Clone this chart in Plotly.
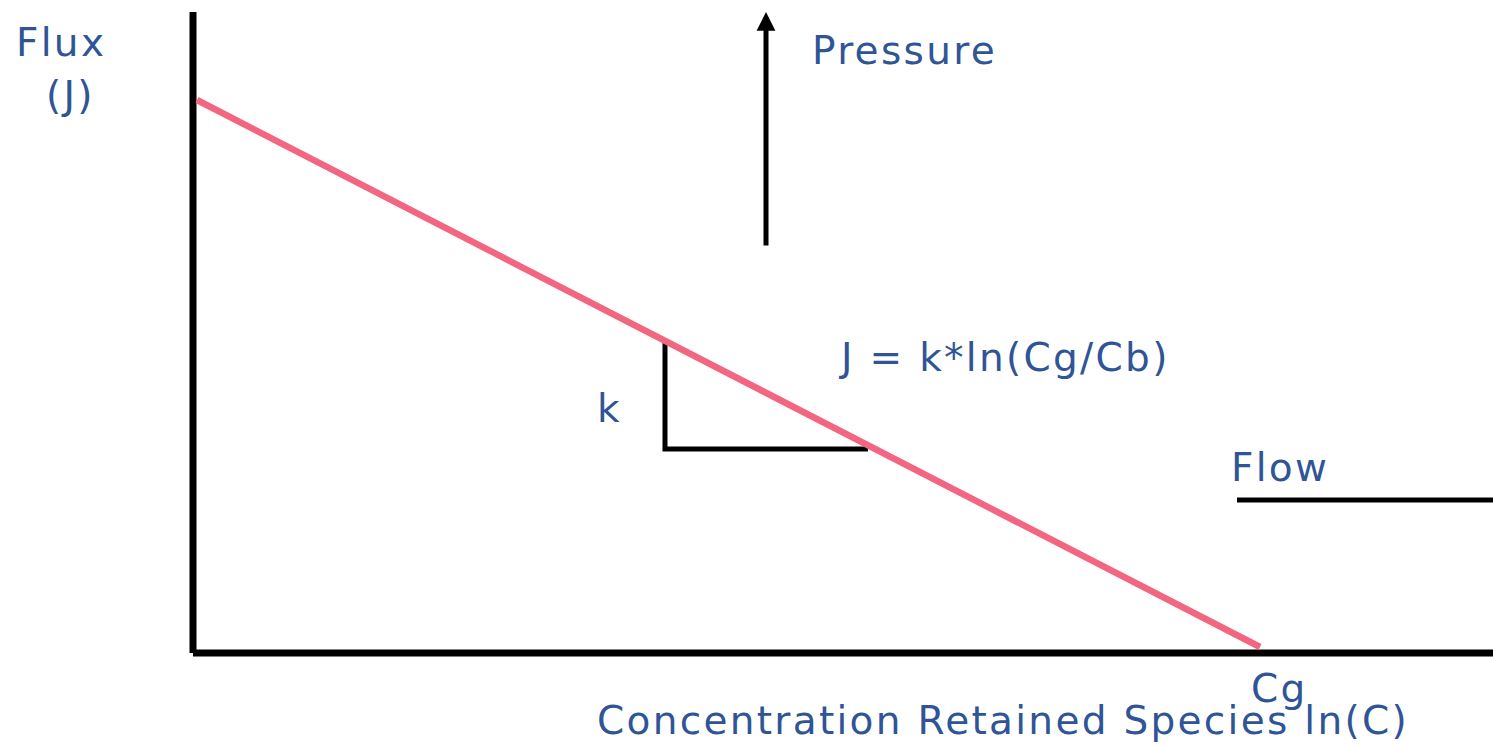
import plotly.graph_objects as go

# Schematic data (diagram coordinates: x to the right, y downward, figure space)
axis_y_x = [193, 193]
axis_y_y = [12, 653]
axis_x_x = [193, 1493]
axis_x_y = [653, 653]

flux_line_x = [197, 1260]
flux_line_y = [100, 647]

slope_tri_x = [665, 665, 868]
slope_tri_y = [343, 449, 449]

pressure_arrow = dict(x0=766, y0=247, x1=766, y1=12)
flow_line_x = [1237, 1493]
flow_line_y = [500, 500]

labels = [
    ("Flux", 14, 42),
    ("(J)", 44, 95),
    ("Pressure", 810, 50),
    ("J = k*ln(Cg/Cb)", 836, 357),
    ("k", 595, 408),
    ("Flow", 1229, 467),
    ("Cg", 1249, 688),
    ("Concentration Retained Species ln(C)", 595, 720),
]

TEXT_COLOR = "#2F5597"
PINK = "#F26682"
FONT = "DejaVu Sans, Verdana, sans-serif"

fig = go.Figure()

fig.add_trace(go.Scatter(x=axis_y_x, y=axis_y_y, mode="lines",
                         line=dict(color="black", width=7), hoverinfo="skip"))
fig.add_trace(go.Scatter(x=axis_x_x, y=axis_x_y, mode="lines",
                         line=dict(color="black", width=7), hoverinfo="skip"))
fig.add_trace(go.Scatter(x=slope_tri_x, y=slope_tri_y, mode="lines",
                         line=dict(color="black", width=5), hoverinfo="skip"))
fig.add_trace(go.Scatter(x=flow_line_x, y=flow_line_y, mode="lines",
                         line=dict(color="black", width=5), hoverinfo="skip"))
fig.add_trace(go.Scatter(x=flux_line_x, y=flux_line_y, mode="lines",
                         line=dict(color=PINK, width=6.5), hoverinfo="skip"))

fig.add_annotation(x=pressure_arrow["x1"], y=pressure_arrow["y1"],
                   ax=pressure_arrow["x0"], ay=pressure_arrow["y0"],
                   xref="x", yref="y", axref="x", ayref="y",
                   showarrow=True, arrowhead=2, arrowsize=0.75, arrowwidth=5,
                   arrowcolor="black", text="")

for txt, x, y in labels:
    fig.add_annotation(x=x, y=y, xref="x", yref="y",
                       text=f'<span style="letter-spacing:2.3px">{txt}</span>',
                       showarrow=False, xanchor="left", yanchor="middle",
                       font=dict(family=FONT, size=39, color=TEXT_COLOR))

fig.update_xaxes(range=[0, 1493], visible=False, fixedrange=True)
fig.update_yaxes(range=[747, 0], visible=False, fixedrange=True)
fig.update_layout(width=1493, height=747, margin=dict(l=0, r=0, t=0, b=0),
                  plot_bgcolor="white", paper_bgcolor="white", showlegend=False)

fig.write_html("out.html", config={"displayModeBar": False},
               post_script="document.body.style.margin='0';document.body.style.overflow='hidden';")
